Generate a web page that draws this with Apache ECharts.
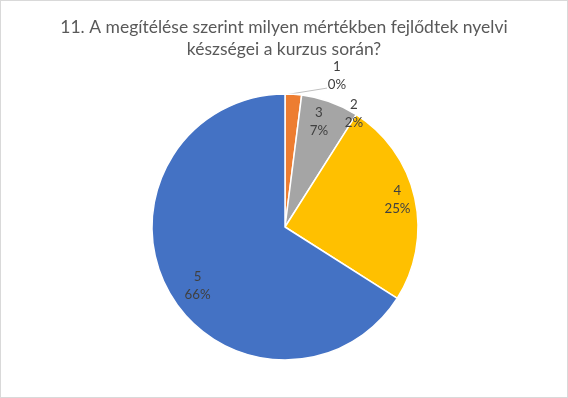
<!DOCTYPE html>
<html>
<head>
<meta charset="utf-8">
<script src="https://cdn.jsdelivr.net/npm/echarts@6/dist/echarts.min.js"></script>
<style>
html,body{margin:0;padding:0;background:#fff;}
#wrap{width:566px;height:396px;border:1px solid #d9d9d9;}
#chart{width:566px;height:396px;}
</style>
</head>
<body>
<div id="wrap"><div id="chart"></div></div>
<script>
const titleText = '11. A megítélése szerint milyen mértékben fejlődtek nyelvi\nkészségei a kurzus során?';
const categories = ['1', '2', '3', '4', '5'];
const values = [0, 2, 7, 25, 66];
const colors = ['#4472C4', '#ED7D31', '#A5A5A5', '#FFC000', '#4472C4'];

// layout (styles) — label placement: [angle from 12 o'clock in degrees, fraction of radius]
const CX = 284, CY = 226, R = 133;
const labelPlace = [[19.0, 1.20], [31.2, 1.0], [17.9, 0.83], [76.4, 0.87], [236.3, 0.79]];

function placeOf(i) {
  const a = labelPlace[i][0] * Math.PI / 180, d = labelPlace[i][1] * R;
  return [CX + d * Math.sin(a), CY - d * Math.cos(a)];
}

const chart = echarts.init(document.getElementById('chart'), null, {renderer: 'canvas'});
chart.setOption({
  animation: false,
  title: {
    text: titleText,
    left: 'center',
    top: 10,
    textStyle: {fontFamily: 'Lato', fontSize: 17.5, fontWeight: 'normal', color: '#595959', lineHeight: 22.5}
  },
  series: [{
    type: 'pie',
    center: [CX, CY],
    radius: [0, R],
    startAngle: 90,
    clockwise: true,
    minAngle: 0,
    stillShowZeroSum: true,
    percentPrecision: 0,
    itemStyle: {borderColor: '#fff', borderWidth: 1.5},
    label: {
      show: true,
      position: 'outside',
      formatter: '{b}\n{d}%',
      fontFamily: 'Lato',
      fontSize: 13.3,
      lineHeight: 18,
      color: '#404040',
      align: 'center'
    },
    labelLine: {show: true, length: 10, length2: 10, lineStyle: {color: '#bfbfbf', width: 1}},
    labelLayout: function (params) {
      const i = params.dataIndex;
      const p = placeOf(i);
      const res = {x: p[0], y: p[1], align: 'center', verticalAlign: 'middle'};
      if (i === 0) {
        res.labelLinePoints = [[CX - 1, CY - R + 1], [p[0] - 10, p[1] + 12], [p[0] - 10, p[1] + 12]];
      }
      return res;
    },
    data: categories.map((c, i) => ({
      name: c,
      value: values[i],
      itemStyle: {color: colors[i]},
      labelLine: {show: i === 0}
    }))
  }]
});
</script>
</body>
</html>
